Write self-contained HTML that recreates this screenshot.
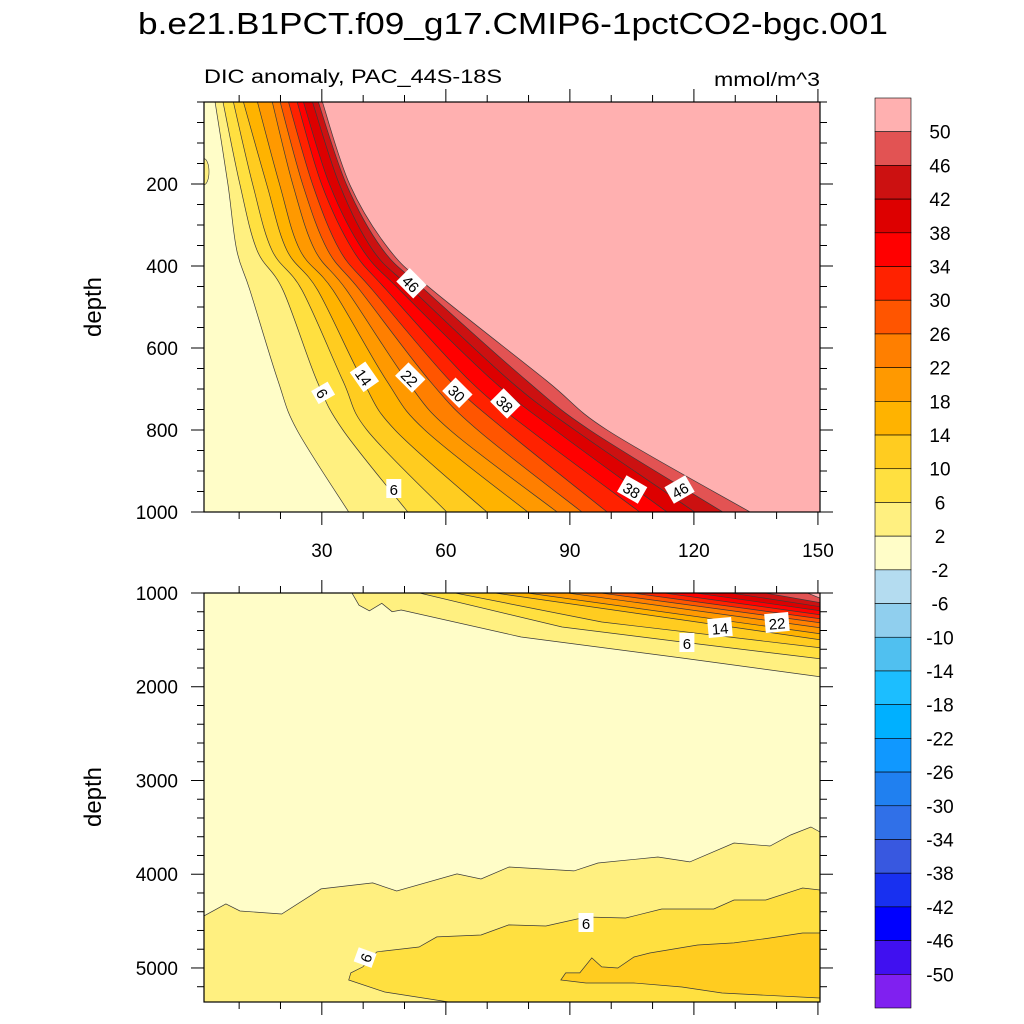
<!DOCTYPE html>
<html><head><meta charset="utf-8"><style>
html,body{margin:0;padding:0;background:#fff;}
svg{display:block;font-family:"Liberation Sans",sans-serif;}
</style></head><body>
<svg id="chart" width="1024" height="1024" viewBox="0 0 1024 1024" xmlns="http://www.w3.org/2000/svg">
<text x="513" y="34" font-size="31" text-anchor="middle" textLength="750" lengthAdjust="spacingAndGlyphs">b.e21.B1PCT.f09_g17.CMIP6-1pctCO2-bgc.001</text>
<text x="204" y="83" font-size="19" textLength="298" lengthAdjust="spacingAndGlyphs">DIC anomaly, PAC_44S-18S</text>
<text x="820" y="86" font-size="19" text-anchor="end" textLength="106" lengthAdjust="spacingAndGlyphs">mmol/m^3</text>
<text font-size="24" text-anchor="middle" transform="translate(101,307) rotate(-90)">depth</text>
<text font-size="24" text-anchor="middle" transform="translate(101,797) rotate(-90)">depth</text>
<g id="gTop"></g>
<g id="gBot"></g>
<g id="gBar"></g>
</svg>
<script>
// ---- data ----
const levels = [2,6,10,14,18,22,26,30,34,38,42,46,50];
const colorBounds = [50,46,42,38,34,30,26,22,18,14,10,6,2,-2,-6,-10,-14,-18,-22,-26,-30,-34,-38,-42,-46,-50];
const colors = ["#FFB0B0","#E25353","#CC1111","#DD0000","#FF0000","#FF2200","#FF5500","#FF7F00","#FF9900","#FFB300","#FFCC20","#FFE040","#FFF080","#FFFDC8","#B4DCF0","#90CFEE","#50C0F0","#1CBEFF","#00B0FF","#1098FF","#2080F0","#3070E8","#3858E0","#1830F0","#0000FF","#4010F0","#8020F0"];
const topDepths = [0,202,361,459,680,800,1000];
const topYears = [
 [4.1,7.3,9.4,12.6,19.4,24.0,36.5],
 [6.0,10.2,14.3,20.6,28.8,35.1,50.8],
 [8.5,13.3,17.9,25.2,35.1,40.9,60.2],
 [10.9,16.7,21.5,29.0,39.9,47.7,69.9],
 [14.3,19.8,24.7,32.7,45.7,54.9,79.8],
 [17.9,23.0,28.3,36.0,50.6,61.0,86.9],
 [19.8,25.4,31.4,39.2,56.1,67.7,92.9],
 [21.8,27.8,34.3,42.3,61.0,74.3,99.0],
 [23.9,30.0,37.5,45.7,65.8,80.3,106.9],
 [25.4,31.9,39.9,48.9,71.4,86.4,113.5],
 [27.6,34.3,42.3,52.0,75.5,91.2,120.2],
 [29.0,36.0,44.8,55.0,79.6,94.8,127.0],
 [30.0,36.8,46.4,56.8,84.4,99.0,133.6]
];
const botTopYears = [37.0,51.6,59.8,68.5,76.2,85.9,93.9,101.6,109.3,117.1,125.8,134.5,146.3];
const botRightDepths = [1896,1704,1587,1501,1437,1373,1320,1277,1235,1192,1149,1107,1064];
const bot2Mid = [[39.0,1130],[41.5,1190],[44.5,1110],[47.0,1200],[49.2,1181],[78.2,1469],[117.1,1693]];
const bot6Mid = [[88.1,1363],[117.1,1523]];
const bot10Mid = [[97.7,1309]];
const deep2Line = [[1.5,4445],[6.8,4317],[10.2,4392],[20.3,4424],[29.8,4157],[42.3,4093],[48.1,4179],[62.7,3997],[68.5,4051],[75.3,3923],[91.0,3965],[96.8,3880],[111.3,3816],[119.0,3869],[129.7,3667],[138.4,3699],[143.4,3581],[148.3,3496],[150.5,3549]];
const deep6Line = [[60.7,5363],[45.2,5256],[36.5,5128],[37.0,5053],[39.9,4989],[43.3,4829],[53.5,4776],[57.8,4669],[68.5,4648],[75.2,4541],[84.2,4552],[93.9,4456],[103.5,4467],[112.2,4371],[124.8,4371],[129.7,4275],[137.4,4275],[146.3,4147],[150.5,4168]];
const deep10Line = [[150.5,4627],[146.3,4627],[138.4,4680],[129.7,4733],[120.9,4755],[109.3,4840],[105.5,4883],[101.6,5000],[97.7,4989],[95.3,4893],[92.4,5053],[89.0,5053],[87.8,5128],[93.9,5160],[105.5,5160],[117.1,5203],[126.8,5267],[150.5,5320]];
const topLabels = [["46",51.6,443,45],["38",74.3,736,45],["30",62.7,710,45],["22",51.3,673,45],["14",40.2,671,55],["6",30.2,710,60],["6",47.4,944,0],["38",105,946,30],["46",116.6,946,-30]];
const botLabels = [["6",118.3,1533,0],["14",126.3,1373,-5],["22",140.1,1320,-5],["6",93.9,4520,0],["6",40.6,4890,-70]];
const xTicks = [30,60,90,120,150];
const topYTicks = [200,400,600,800,1000];
const botYTicks = [1000,2000,3000,4000,5000];

// ---- axes ----
const NS = "http://www.w3.org/2000/svg";
const X0=204, X1=820, YR0=1.5, YR1=150.5;
function sx(y){return X0+(y-YR0)*(X1-X0)/(YR1-YR0);}
const T0=102, T1=512; function syT(d){return T0+d*(T1-T0)/1000;}
const B0=593, B1=1002, BD0=1000, BD1=5363; function syB(d){return B0+(d-BD0)*(B1-B0)/(BD1-BD0);}
function mk(tag,attrs,parent){const e=document.createElementNS(NS,tag);for(const k in attrs)e.setAttribute(k,attrs[k]);parent.appendChild(e);return e;}
function smooth(pts){let d="M"+pts[0][0]+","+pts[0][1];for(let i=0;i<pts.length-1;i++){const p0=pts[Math.max(0,i-1)],p1=pts[i],p2=pts[i+1],p3=pts[Math.min(pts.length-1,i+2)];const c1=[p1[0]+(p2[0]-p0[0])/6,p1[1]+(p2[1]-p0[1])/6],c2=[p2[0]-(p3[0]-p1[0])/6,p2[1]-(p3[1]-p1[1])/6];d+=" C"+c1[0].toFixed(1)+","+c1[1].toFixed(1)+" "+c2[0].toFixed(1)+","+c2[1].toFixed(1)+" "+p2[0].toFixed(1)+","+p2[1].toFixed(1);}return d;}
function poly(pts){return "M"+pts.map(p=>p[0].toFixed(1)+","+p[1].toFixed(1)).join(" L");}
function colorFor(lv){return colors[colorBounds.indexOf(lv)];}
const lineStyle={fill:"none",stroke:"#3a3a3a","stroke-width":"0.7"};

// ---- top panel ----
const gT=document.getElementById('gTop');
const cpT=mk('clipPath',{id:'clipT'},gT);mk('rect',{x:X0,y:T0,width:X1-X0,height:T1-T0},cpT);
const fT=mk('g',{'clip-path':'url(#clipT)'},gT);
let r=mk('rect',{x:X0,y:T0,width:X1-X0,height:T1-T0,fill:"#FFFDC8"},fT);


let bump=mk('ellipse',{cx:sx(YR0),cy:syT(170),rx:5,ry:13,fill:"#FFF080",stroke:"#3a3a3a","stroke-width":"0.6"},fT);


levels.forEach((lv,i)=>{
  const pts=topYears[i].map((yr,j)=>[sx(yr),syT(topDepths[j])]);
  pts[0][1]-=2;
  const d=smooth(pts)+" L"+(X1+2)+","+(T1+2)+" L"+(X1+2)+","+(T0-2)+" Z";
  const p=mk('path',{d:d,fill:colorFor(lv)},fT);
  
  
  const l=mk('path',Object.assign({d:smooth(pts)},lineStyle),fT);
  
  
});
// ---- bottom panel ----
const gB=document.getElementById('gBot');
const cpB=mk('clipPath',{id:'clipB'},gB);mk('rect',{x:X0,y:B0,width:X1-X0,height:B1-B0},cpB);
const fB=mk('g',{'clip-path':'url(#clipB)'},gB);
r=mk('rect',{x:X0,y:B0,width:X1-X0,height:B1-B0,fill:"#FFFDC8"},fB);


levels.forEach((lv,i)=>{
  let raw=[[botTopYears[i],BD0]];
  if(i===0)raw=raw.concat(bot2Mid);
  if(i===1)raw=raw.concat(bot6Mid);
  if(i===2)raw=raw.concat(bot10Mid);
  raw.push([YR1,botRightDepths[i]]);
  const pts=raw.map(p=>[sx(p[0]),syB(p[1])]);
  pts[0][1]-=2;pts[pts.length-1][0]+=2;
  const p=mk('path',{d:poly(pts)+" L"+(X1+2)+","+(B0-2)+" Z",fill:colorFor(lv)},fB);
  
  
  const l=mk('path',Object.assign({d:poly(pts)},lineStyle),fB);
  
  
});
function deepRegion(line,lv,closeExtra,name){
  const pts=line.map(p=>[sx(p[0]),syB(p[1])]);
  const p=mk('path',{d:poly(pts)+closeExtra,fill:colorFor(lv)},fB);
  
  
  const l=mk('path',Object.assign({d:poly(pts)},lineStyle),fB);
  
  
}
deepRegion(deep2Line,2," L"+(X1+2)+","+(B1+2)+" L"+(X0-2)+","+(B1+2)+" Z",'deep-level-2');
deepRegion(deep6Line,6," L"+(X1+2)+","+(B1+2)+" Z",'deep-level-6');
deepRegion(deep10Line,10," Z",'deep-level-10');

// ---- labels ----
function clabel(g,txt,x,y,rot,name){
  const gg=mk('g',{transform:"translate("+x.toFixed(1)+","+y.toFixed(1)+") rotate("+rot+")"},g);
  
  
  const w=txt.length*9+6;
  mk('rect',{x:-w/2,y:-10,width:w,height:19,fill:"#fff"},gg);
  const t=mk('text',{x:0,y:6,"font-size":"15","text-anchor":"middle"},gg);t.textContent=txt;
}
topLabels.forEach((L,i)=>clabel(fT,L[0],sx(L[1]),syT(L[2]),L[3],'top-contour-label-'+i));
botLabels.forEach((L,i)=>clabel(fB,L[0],sx(L[1]),syB(L[2]),L[3],'bottom-contour-label-'+i));

// ---- frames and ticks ----
function frame(g,y0,y1,yTicks,yMinorStep,sy,d0,d1,name,showX){
  const f=mk('rect',{x:X0,y:y0,width:X1-X0,height:y1-y0,fill:"none",stroke:"#000","stroke-width":"1.2"},g);
  
  
  for(let yr=10;yr<=150;yr+=10){
    const major=yr%30===0, len=major?13:7, x=sx(yr);
    mk('line',{x1:x,x2:x,y1:y0,y2:y0-len,stroke:"#000","stroke-width":"1"},g);
    mk('line',{x1:x,x2:x,y1:y1,y2:y1+len,stroke:"#000","stroke-width":"1"},g);
  }
  for(let d=Math.ceil(d0/yMinorStep)*yMinorStep;d<=d1;d+=yMinorStep){
    const y=sy(d);if(y<y0-0.5||y>y1+0.5)continue;
    const major=yTicks.indexOf(d)>=0, len=major?13:7;
    mk('line',{x1:X0,x2:X0-len,y1:y,y2:y,stroke:"#000","stroke-width":"1"},g);
    mk('line',{x1:X1,x2:X1+len,y1:y,y2:y,stroke:"#000","stroke-width":"1"},g);
  }
  yTicks.forEach(d=>{
    const t=mk('text',{x:178,y:sy(d)+7,"font-size":"19","text-anchor":"end"},g);
    t.textContent=d;
    
    
  });
  if(showX)xTicks.forEach(v=>{
    const t=mk('text',{x:sx(v),y:y1+45,"font-size":"19","text-anchor":"middle"},g);
    t.textContent=v;
    
    
  });
}
frame(gT,T0,T1,topYTicks,50,syT,0,1000,'top',true);
frame(gB,B0,B1,botYTicks,200,syB,1000,5363,'bottom',false);

// ---- colorbar ----
const gC=document.getElementById('gBar');
const CB0=98, CB1=1008, CBx=875, CBw=36, n=colors.length, h=(CB1-CB0)/n;
colors.forEach((c,i)=>{
  const b=mk('rect',{x:CBx,y:CB0+i*h,width:CBw,height:h,fill:c,stroke:"#000","stroke-width":"0.6"},gC);
  
  
});
colorBounds.forEach((v,i)=>{
  const t=mk('text',{x:940,y:CB0+(i+1)*h+7,"font-size":"19","text-anchor":"middle"},gC);
  t.textContent=v;
  
  
});
</script>
</body></html>
